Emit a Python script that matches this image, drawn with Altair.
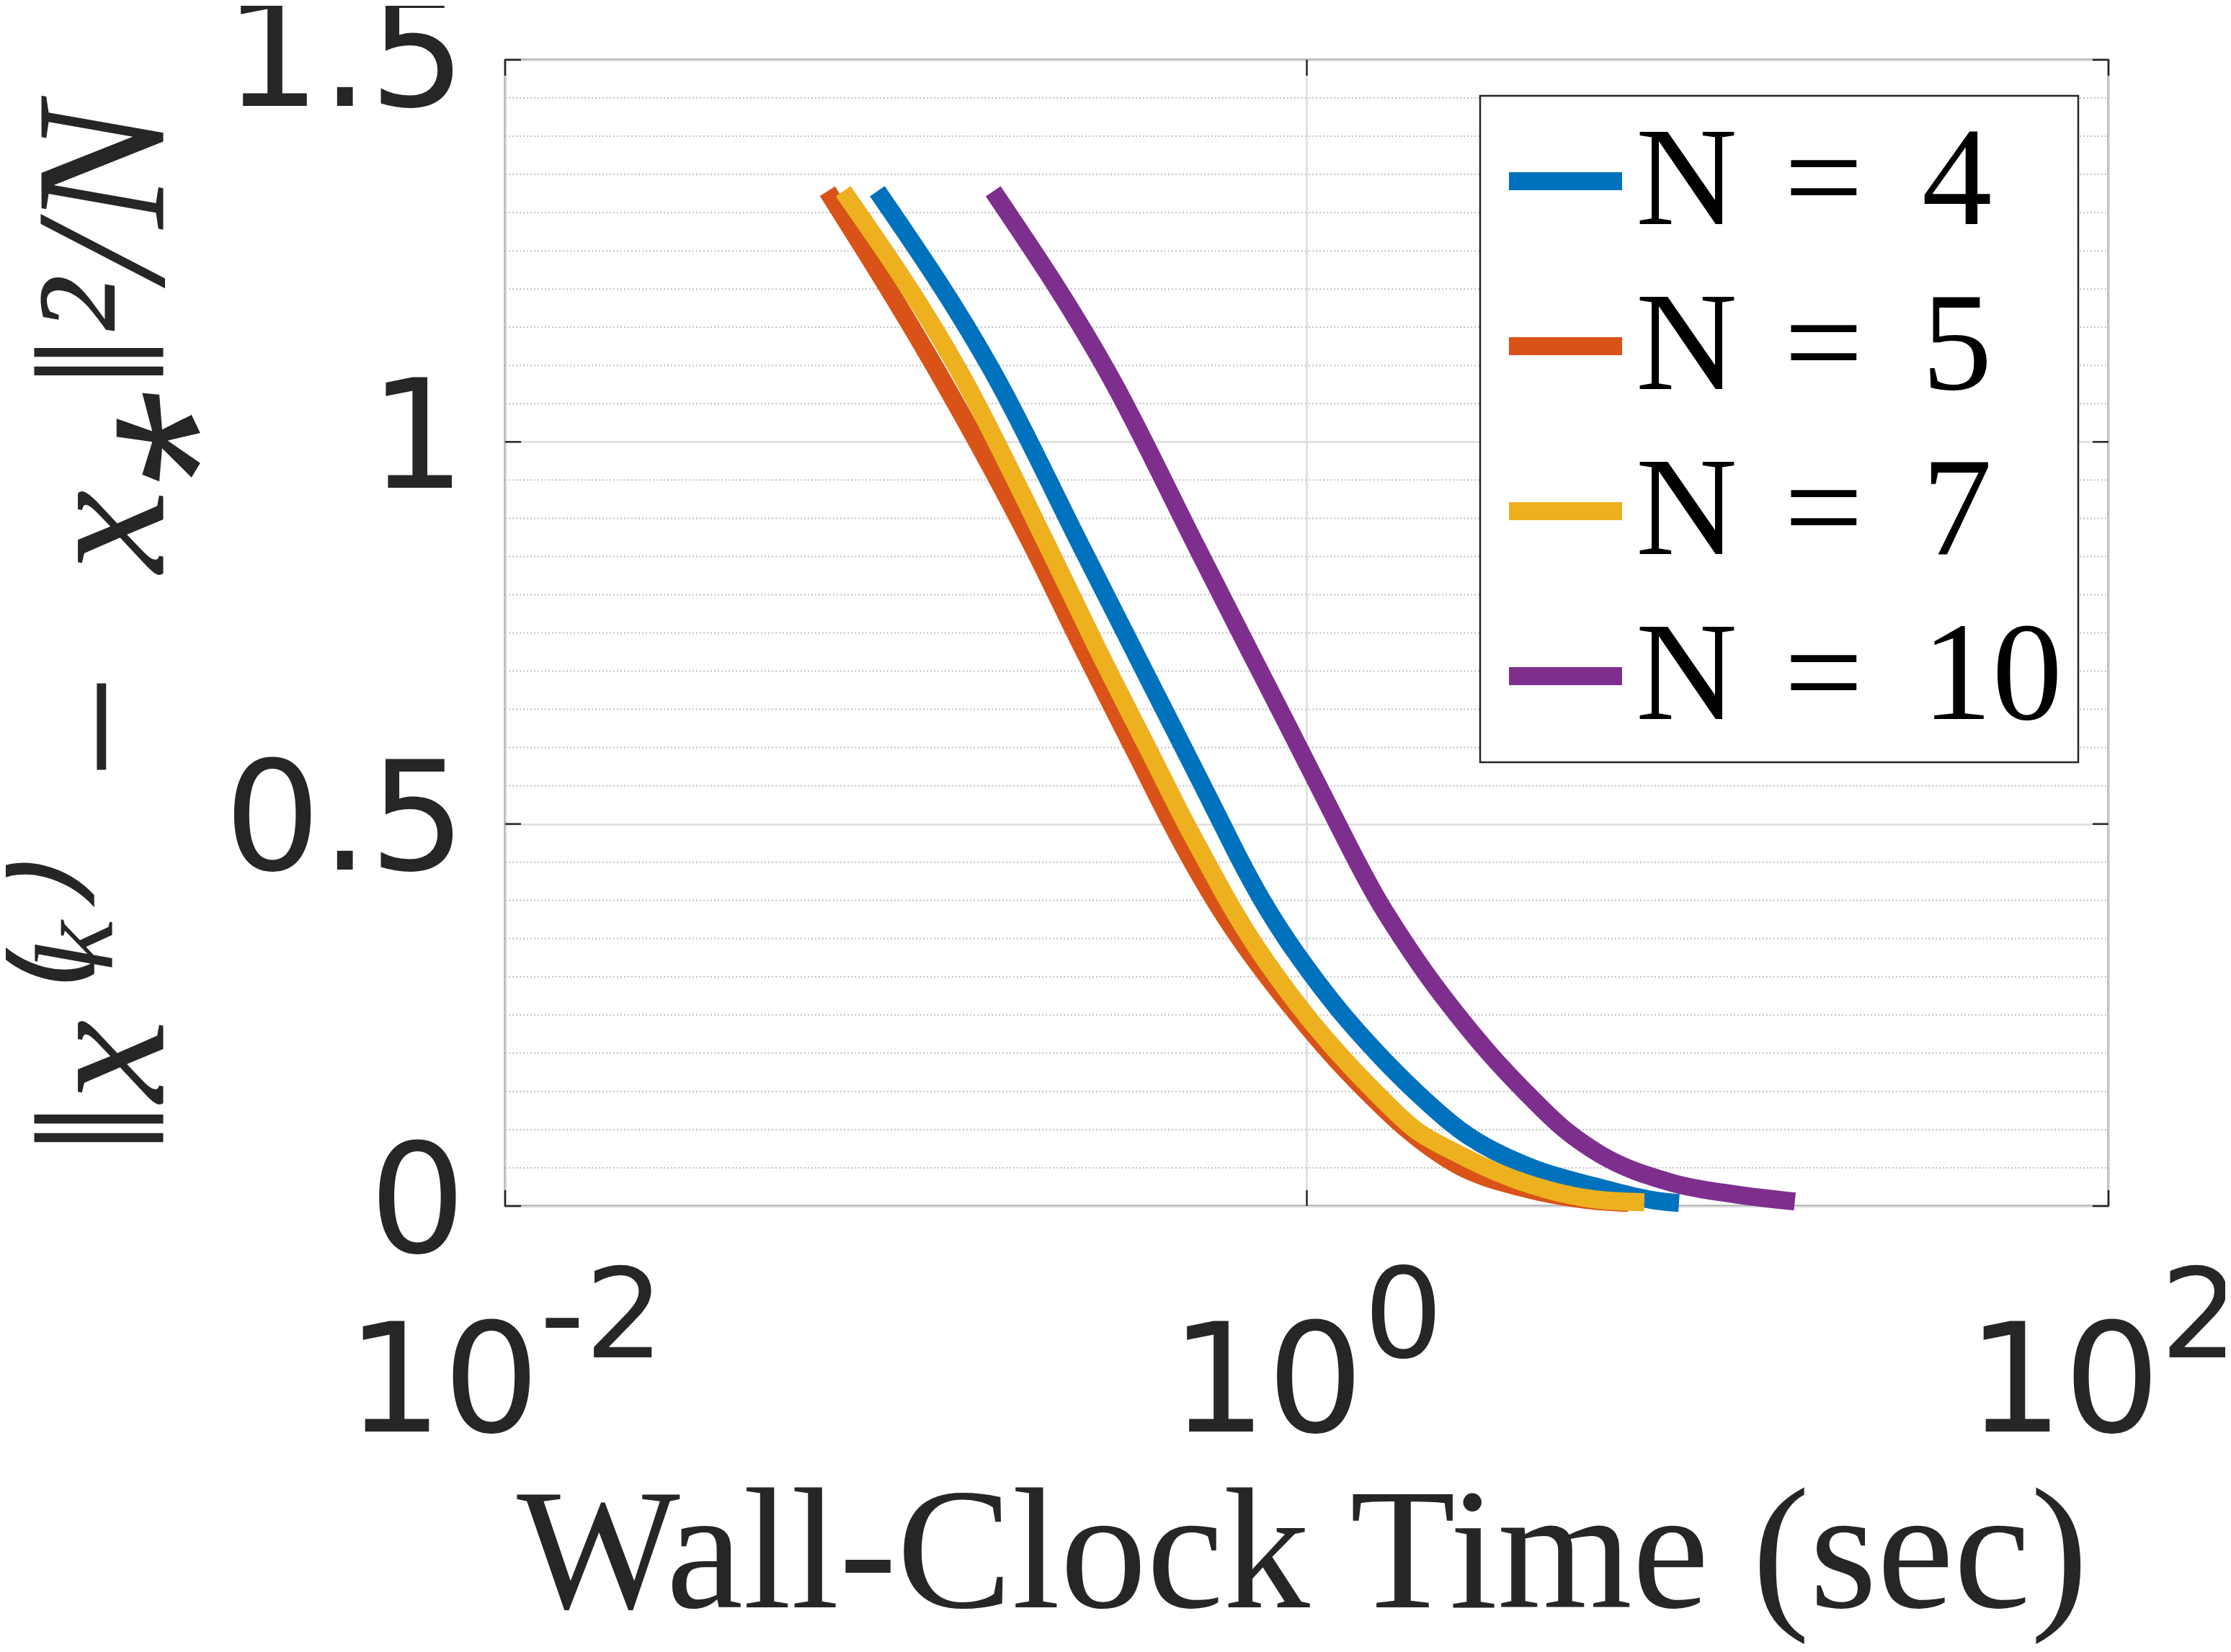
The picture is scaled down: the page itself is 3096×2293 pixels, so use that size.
import altair as alt
import pandas as pd

# ---------------- data ----------------
series_labels = ["N\u200a = \u20064", "N\u200a = \u20065", "N\u200a = \u20067", "N\u200a = \u200610"]
series_colors = ["#0072BD", "#D95319", "#EDB120", "#7E2F8E"]

n4_time = [0.0848, 0.169, 0.275, 0.368, 0.456, 0.561, 0.614, 0.686, 0.774, 0.888, 1.038, 1.233,
           1.50, 1.866, 2.404, 3.64, 5.21, 7.9, 8.48]
n4_err = [1.328, 1.081, 0.861, 0.730, 0.634, 0.541, 0.500, 0.450, 0.400, 0.350, 0.300, 0.250,
          0.200, 0.150, 0.100, 0.050, 0.026, 0.0053, 0.004]

n5_time = [0.0637, 0.1267, 0.208, 0.276, 0.380, 0.460, 0.522, 0.589, 0.680, 0.798, 0.950, 1.145,
           1.41, 1.78, 2.35, 3.56, 5.0, 6.35]
n5_err = [1.328, 1.070, 0.861, 0.730, 0.586, 0.500, 0.447, 0.400, 0.350, 0.300, 0.250, 0.200,
          0.150, 0.100, 0.055, 0.022, 0.008, 0.004]

n7_time = [0.0697, 0.138, 0.227, 0.300, 0.413, 0.500, 0.567, 0.635, 0.725, 0.843, 0.995, 1.199,
           1.476, 1.866, 2.35, 3.56, 5.38, 6.95]
n7_err = [1.328, 1.086, 0.861, 0.730, 0.586, 0.500, 0.447, 0.400, 0.350, 0.300, 0.250, 0.200,
          0.150, 0.100, 0.070, 0.029, 0.008, 0.005]

n10_time = [0.165, 0.329, 0.533, 0.714, 0.886, 1.090, 1.194, 1.345, 1.507, 1.73, 2.01, 2.375,
            2.85, 3.5, 4.4, 5.38, 8.14, 11.8, 16.5]
n10_err = [1.328, 1.078, 0.861, 0.730, 0.634, 0.541, 0.500, 0.447, 0.400, 0.350, 0.300, 0.250,
           0.200, 0.150, 0.100, 0.068, 0.0305, 0.015, 0.006]

y_tick_values = [0, 0.5, 1, 1.5]
y_minor_grid = [0.05, 0.10, 0.15, 0.20, 0.25, 0.30, 0.35, 0.40, 0.45,
                0.55, 0.60, 0.65, 0.70, 0.75, 0.80, 0.85, 0.90, 0.95,
                1.05, 1.10, 1.15, 1.20, 1.25, 1.30, 1.35, 1.40, 1.45]
x_tick_values = [0.01, 1, 100]
x_tick_base = ["10", "10", "10"]
x_tick_exp = ["-2", "0", "2"]

x_title = "Wall-Clock Time (sec)"
y_title = "\u2016x\u207d\u1d4f\u207e\u2002\u2212\u2002x\u204e\u2016\u00b2/N"

# ---------------- build table ----------------
rows = []
for lab, ts, es in zip(series_labels, [n4_time, n5_time, n7_time, n10_time],
                       [n4_err, n5_err, n7_err, n10_err]):
    for i, (t, e) in enumerate(zip(ts, es)):
        rows.append({"series": lab, "t": t, "err": e, "i": i})
df = pd.DataFrame(rows)

W, H = 2225, 1591
INK = "#262626"
xscale = alt.Scale(type="log", domain=[0.01, 100], nice=False)
yscale = alt.Scale(domain=[0, 1.5], nice=False, zero=False)

x_axis = alt.Axis(
    values=x_tick_values, grid=True, gridColor="#dcdcdc", gridWidth=2.5,
    labels=False, ticks=False, domain=False,
    title=x_title, titleFont="Liberation Serif", titleFontSize=240,
    titleFontWeight="normal", titleColor=INK, titleX=1106, titleY=556,
    titleBaseline="alphabetic", titleAlign="center")
y_axis = alt.Axis(
    values=y_tick_values, format="~g", grid=True, gridColor="#dcdcdc", gridWidth=2.5,
    labelFont="DejaVu Sans", labelFontSize=211, labelColor=INK, labelPadding=55,
    labelLimit=0, tickSize=0, domain=False, labelFlush=False, labelOverlap=False,
    title=y_title, titleFont="Liberation Serif", titleFontSize=258, titleFontStyle="italic",
    titleFontWeight="normal", titleColor=INK, titleX=-475, titleY=790, titleAngle=270,
    titleBaseline="alphabetic", titleAlign="center", titleLimit=0)

minor = alt.Chart(pd.DataFrame({"y": y_minor_grid})).mark_rule(
    color="#c2c2c2", strokeWidth=2, strokeDash=[2, 3]
).encode(y=alt.Y("y:Q", scale=yscale, axis=y_axis), x=alt.value(0), x2=alt.value(W))

lines = alt.Chart(df).mark_line(strokeWidth=25, strokeJoin="round", strokeCap="butt",
                                interpolate="monotone").encode(
    x=alt.X("t:Q", scale=xscale, axis=x_axis),
    y=alt.Y("err:Q", scale=yscale, axis=y_axis),
    color=alt.Color("series:N", sort=series_labels,
                    scale=alt.Scale(domain=series_labels, range=series_colors),
                    legend=alt.Legend(title=None, orient="none", legendX=1353, legendY=50,
                                      symbolType="stroke", symbolSize=24649, symbolStrokeWidth=25,
                                      labelFont="Liberation Serif", labelFontSize=195,
                                      labelColor="black", labelOffset=0, rowPadding=33,
                                      padding=21, strokeColor=INK, fillColor="white",
                                      labelLimit=0)),
    order="i:Q",
)

tick_len = 22
left_ticks = alt.Chart(pd.DataFrame({"y": y_tick_values})).mark_rule(color=INK, strokeWidth=2.5).encode(
    y=alt.Y("y:Q", scale=yscale, axis=y_axis), x=alt.value(0), x2=alt.value(tick_len))
right_ticks = alt.Chart(pd.DataFrame({"y": y_tick_values})).mark_rule(color=INK, strokeWidth=2.5).encode(
    y=alt.Y("y:Q", scale=yscale, axis=y_axis), x=alt.value(W - tick_len), x2=alt.value(W))
bottom_ticks = alt.Chart(pd.DataFrame({"x": x_tick_values})).mark_rule(color=INK, strokeWidth=2.5).encode(
    x=alt.X("x:Q", scale=xscale, axis=x_axis), y=alt.value(H - tick_len), y2=alt.value(H))
top_ticks = alt.Chart(pd.DataFrame({"x": x_tick_values})).mark_rule(color=INK, strokeWidth=2.5).encode(
    x=alt.X("x:Q", scale=xscale, axis=x_axis), y=alt.value(0), y2=alt.value(tick_len))

label_layers = []
for t, b, e in zip(x_tick_values, x_tick_base, x_tick_exp):
    if e.startswith("-"):
        d = 48
    elif t >= 100:
        d = 72
    else:
        d = 79
    ldf = pd.DataFrame({"t": [t], "b": [b], "e": [e]})
    label_layers.append(alt.Chart(ldf).mark_text(
        font="DejaVu Sans", fontSize=211, align="right", baseline="alphabetic", dx=d, color=INK
    ).encode(x=alt.X("t:Q", scale=xscale, axis=x_axis), y=alt.value(1904), text="b:N"))
    label_layers.append(alt.Chart(ldf).mark_text(
        font="DejaVu Sans", fontSize=173, align="left", baseline="alphabetic", dx=d, color=INK
    ).encode(x=alt.X("t:Q", scale=xscale, axis=x_axis), y=alt.value(1801), text="e:N"))

chart = alt.layer(minor, lines, left_ticks, right_ticks, bottom_ticks, top_ticks, *label_layers).properties(
    width=W, height=H,
    autosize=alt.AutoSizeParams(type="none"),
    padding={"left": 693, "top": 75, "right": 162, "bottom": 611},
    background="white",
).configure_view(stroke=INK, strokeWidth=2.5).configure_legend(strokeWidth=2.5)

chart.save("out.html", embed_options={"renderer": "svg", "actions": False})
